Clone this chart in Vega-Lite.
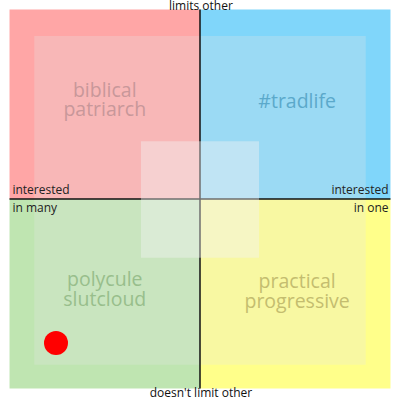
{
  "$schema": "https://vega.github.io/schema/vega-lite/v6.json",
  "width": 400,
  "height": 400,
  "padding": 0,
  "autosize": {"type": "fit", "contains": "padding"},
  "config": {"view": {"stroke": null}, "font": "Open Sans"},
  "resolve": {"scale": {"color": "independent"}},
  "datasets": {
    "quadrants": [
      {"quadrant": "red", "x0": -10, "x1": 0, "y0": 0, "y1": 10},
      {"quadrant": "blue", "x0": 0, "x1": 10, "y0": 0, "y1": 10},
      {"quadrant": "green", "x0": -10, "x1": 0, "y0": -10, "y1": 0},
      {"quadrant": "yellow", "x0": 0, "x1": 10, "y0": -10, "y1": 0}
    ],
    "inner": [{"x0": -8.7, "x1": 8.7, "y0": -8.75, "y1": 8.6}],
    "center": [{"x0": -3.1, "x1": 3.1, "y0": -3.1, "y1": 3.05}],
    "axes": [
      {"x0": 0, "x1": 0, "y0": -10, "y1": 10},
      {"x0": -10, "x1": 10, "y0": 0, "y1": 0}
    ],
    "names": [
      {"region": "red", "x": -5.0, "y": 5.7, "label": ["biblical", "patriarch"]},
      {"region": "blue", "x": 5.1, "y": 5.1, "label": ["#tradlife"]},
      {"region": "green", "x": -5.0, "y": -4.3, "label": ["polycule", "slutcloud"]},
      {"region": "yellow", "x": 5.1, "y": -4.4, "label": ["practical", "progressive"]}
    ],
    "leftLabels": [
      {"x": -9.85, "y": 0.47, "label": "interested"},
      {"x": -9.85, "y": -0.47, "label": "in many"}
    ],
    "rightLabels": [
      {"x": 9.9, "y": 0.47, "label": "interested"},
      {"x": 9.9, "y": -0.47, "label": "in one"}
    ],
    "centerLabels": [
      {"x": 0.05, "y": 10.18, "label": "limits other"},
      {"x": 0.05, "y": -10.25, "label": "doesn't limit other"}
    ],
    "points": [{"x": -7.56, "y": -7.6}]
  },
  "encoding": {
    "x": {"type": "quantitative", "scale": {"domain": [-10.5, 10.5], "nice": false, "zero": false}, "axis": null},
    "y": {"type": "quantitative", "scale": {"domain": [-10.5, 10.5], "nice": false, "zero": false}, "axis": null}
  },
  "layer": [
    {
      "data": {"name": "quadrants"},
      "mark": {"type": "rect"},
      "encoding": {
        "x": {"field": "x0"}, "x2": {"field": "x1"},
        "y": {"field": "y0"}, "y2": {"field": "y1"},
        "color": {"field": "quadrant", "type": "nominal", "legend": null,
          "scale": {"domain": ["red", "blue", "green", "yellow"], "range": ["#FFA6A6", "#80D6FA", "#BFE5B1", "#FFFF8A"]}}
      }
    },
    {
      "data": {"name": "inner"},
      "mark": {"type": "rect", "color": "#e6e6e6", "opacity": 0.27},
      "encoding": {"x": {"field": "x0"}, "x2": {"field": "x1"}, "y": {"field": "y0"}, "y2": {"field": "y1"}}
    },
    {
      "data": {"name": "axes"},
      "mark": {"type": "rule", "color": "#111111", "strokeWidth": 1.5},
      "encoding": {"x": {"field": "x0"}, "x2": {"field": "x1"}, "y": {"field": "y0"}, "y2": {"field": "y1"}}
    },
    {
      "data": {"name": "center"},
      "mark": {"type": "rect", "color": "#f2f2f2", "opacity": 0.42},
      "encoding": {"x": {"field": "x0"}, "x2": {"field": "x1"}, "y": {"field": "y0"}, "y2": {"field": "y1"}}
    },
    {
      "data": {"name": "names"},
      "mark": {"type": "text", "fontSize": 19.5, "lineHeight": 19.5, "align": "center", "baseline": "middle"},
      "encoding": {
        "x": {"field": "x"}, "y": {"field": "y"},
        "text": {"field": "label"},
        "color": {"field": "region", "type": "nominal", "legend": null,
          "scale": {"domain": ["red", "blue", "green", "yellow"], "range": ["#C8979A", "#5BA9CB", "#98BE8C", "#C4BD6F"]}}
      }
    },
    {
      "data": {"name": "leftLabels"},
      "mark": {"type": "text", "fontSize": 12, "align": "left", "baseline": "middle", "color": "#222222"},
      "encoding": {"x": {"field": "x"}, "y": {"field": "y"}, "text": {"field": "label"}}
    },
    {
      "data": {"name": "rightLabels"},
      "mark": {"type": "text", "fontSize": 12, "align": "right", "baseline": "middle", "color": "#222222"},
      "encoding": {"x": {"field": "x"}, "y": {"field": "y"}, "text": {"field": "label"}}
    },
    {
      "data": {"name": "centerLabels"},
      "mark": {"type": "text", "fontSize": 12, "align": "center", "baseline": "middle", "color": "#111111"},
      "encoding": {"x": {"field": "x"}, "y": {"field": "y"}, "text": {"field": "label"}}
    },
    {
      "data": {"name": "points"},
      "mark": {"type": "point", "shape": "circle", "filled": true, "opacity": 1, "color": "#FF0000", "size": 576},
      "encoding": {"x": {"field": "x"}, "y": {"field": "y"}}
    }
  ]
}
